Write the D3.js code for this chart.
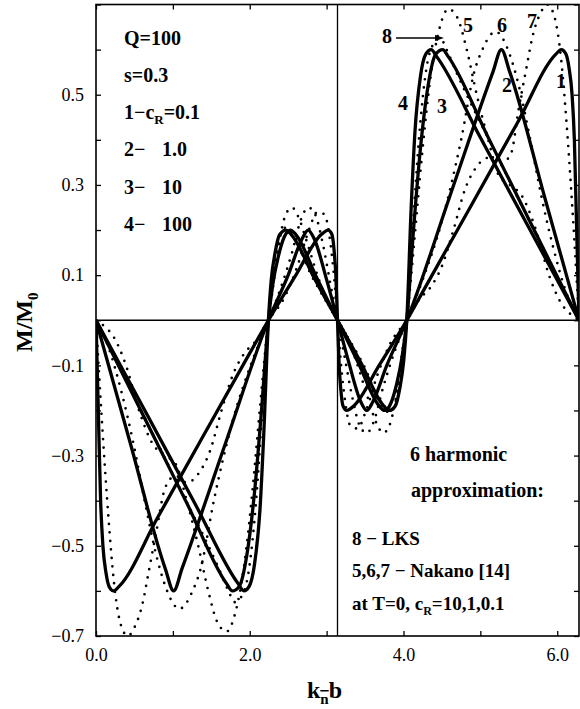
<!DOCTYPE html>
<html>
<head>
<meta charset="utf-8">
<script src="https://cdn.jsdelivr.net/npm/d3@7"></script>
<style>
  body { margin: 0; background: #fff; }
  svg { display: block; font-family: "Liberation Serif", "Times New Roman", serif; }
</style>
</head>
<body>
<svg id="chart" width="580" height="709"></svg>
<script>
// axis ticks
const xTicks = [0, 1, 2, 3, 4, 5, 6];
const xLabeled = [0, 2, 4, 6];
const yTicks = [-0.7, -0.6, -0.5, -0.4, -0.3, -0.2, -0.1, 0, 0.1, 0.2, 0.3, 0.4, 0.5, 0.6, 0.7];
const yLabeled = [-0.7, -0.5, -0.3, -0.1, 0.1, 0.3, 0.5];

// solid curves, 1-4 : c_R = 0.1, 1.0, 10, 100  ([k_n b, M/M0])
const curve1 = [[0,0],[0.03,-0.2],[0.06,-0.4],[0.09,-0.5],[0.13,-0.56],[0.17,-0.59],[0.23,-0.6],[0.3,-0.59],
  [0.8,-0.438],[1.4,-0.255],[2.0,-0.073],[2.243,0],[2.6,0.1],[2.93,0.19],[3.02,0.2],[3.07,0.19],[3.1,0.15],
  [3.12,0.1],[3.1416,0],[3.163,-0.1],[3.183,-0.15],[3.213,-0.19],[3.263,-0.2],[3.353,-0.19],[3.683,-0.1],
  [4.043,0],[4.283,0.073],[4.883,0.255],[5.483,0.438],[5.983,0.59],[6.053,0.6],[6.113,0.59],[6.153,0.56],
  [6.193,0.5],[6.223,0.4],[6.253,0.2],[6.2832,0]];
const curve2 = [[0,0],[0.45,-0.275],[0.9,-0.55],[1.01,-0.6],[1.12,-0.55],[1.68,-0.275],[2.243,0],[2.5,0.1],
  [2.68,0.18],[2.76,0.2],[2.84,0.18],[3.0,0.09],[3.1416,0],[3.283,-0.09],[3.443,-0.18],[3.523,-0.2],
  [3.603,-0.18],[3.783,-0.1],[4.043,0],[4.603,0.275],[5.163,0.55],[5.273,0.6],[5.383,0.55],[5.833,0.275],[6.2832,0]];
const curve3 = [[0,0],[0.583,-0.2],[1.183,-0.406],[1.703,-0.585],[1.773,-0.6],[1.863,-0.59],[1.963,-0.52],
  [2.063,-0.38],[2.153,-0.2],[2.243,0],[2.3,0.08],[2.37,0.14],[2.45,0.185],[2.53,0.2],[2.6,0.19],[2.87,0.095],
  [3.1416,0],[3.413,-0.095],[3.683,-0.19],[3.753,-0.2],[3.833,-0.185],[3.913,-0.14],[3.983,-0.08],[4.043,0],
  [4.13,0.2],[4.22,0.38],[4.32,0.52],[4.42,0.59],[4.51,0.6],[4.58,0.585],[5.1,0.406],[5.7,0.2],[6.2832,0]];
const curve4 = [[0,0],[0.683,-0.215],[1.283,-0.405],[1.853,-0.585],[1.923,-0.6],[1.993,-0.59],[2.063,-0.54],
  [2.133,-0.42],[2.183,-0.25],[2.243,0],[2.28,0.09],[2.33,0.15],[2.39,0.19],[2.47,0.2],[2.54,0.19],[2.85,0.09],
  [3.1416,0],[3.433,-0.09],[3.743,-0.19],[3.813,-0.2],[3.893,-0.19],[3.953,-0.15],[4.003,-0.09],[4.043,0],
  [4.1,0.25],[4.15,0.42],[4.22,0.54],[4.29,0.59],[4.36,0.6],[4.43,0.585],[5.0,0.405],[5.6,0.215],[6.2832,0]];

// dotted curves: 5,6,7 Nakano (c_R = 10, 1, 0.1), 8 LKS
const curve5 = [[0,0],[0.1,-0.012],[0.24,-0.04],[0.39,-0.1],[0.56,-0.2],[0.74,-0.275],[0.9,-0.3],[1.04,-0.32],
  [1.18,-0.4],[1.33,-0.5],[1.46,-0.6],[1.58,-0.67],[1.7,-0.69],[1.81,-0.65],[1.93,-0.54],[2.04,-0.37],
  [2.14,-0.18],[2.243,0],[2.3,0.07],[2.38,0.17],[2.47,0.235],[2.55,0.25],[2.63,0.23],[2.75,0.17],[2.9,0.09],
  [3.02,0.035],[3.1416,0],[3.263,-0.035],[3.383,-0.09],[3.533,-0.17],[3.653,-0.23],[3.733,-0.25],
  [3.813,-0.235],[3.903,-0.17],[3.983,-0.07],[4.043,0],[4.143,0.18],[4.243,0.37],[4.353,0.54],[4.473,0.65],
  [4.583,0.69],[4.703,0.67],[4.823,0.6],[4.953,0.5],[5.103,0.4],[5.243,0.32],[5.383,0.3],[5.543,0.275],
  [5.723,0.2],[5.893,0.1],[6.043,0.04],[6.183,0.012],[6.2832,0]];
const curve6 = [[0,0],[0.163,-0.06],[0.333,-0.16],[0.483,-0.27],[0.633,-0.4],[0.783,-0.52],[0.903,-0.59],
  [0.993,-0.625],[1.083,-0.64],[1.163,-0.63],[1.243,-0.605],[1.363,-0.55],[1.533,-0.4],[1.783,-0.22],
  [2.033,-0.09],[2.243,0],[2.4,0.07],[2.55,0.15],[2.67,0.225],[2.76,0.25],[2.85,0.235],[2.95,0.17],[3.05,0.08],
  [3.1416,0],[3.233,-0.08],[3.333,-0.17],[3.433,-0.235],[3.523,-0.25],[3.613,-0.225],[3.733,-0.15],
  [3.883,-0.07],[4.043,0],[4.25,0.09],[4.5,0.22],[4.75,0.4],[4.92,0.55],[5.04,0.605],[5.12,0.63],[5.2,0.64],
  [5.29,0.625],[5.38,0.59],[5.5,0.52],[5.65,0.4],[5.8,0.27],[5.95,0.16],[6.12,0.06],[6.2832,0]];
const curve7 = [[0,0],[0.083,-0.24],[0.163,-0.44],[0.233,-0.58],[0.323,-0.675],[0.413,-0.7],[0.503,-0.68],
  [0.603,-0.63],[0.683,-0.56],[0.783,-0.47],[0.903,-0.37],[1.033,-0.345],[1.183,-0.36],[1.333,-0.34],
  [1.483,-0.29],[1.633,-0.2],[1.783,-0.12],[1.923,-0.075],[2.083,-0.045],[2.243,0],[2.45,0.05],[2.62,0.12],
  [2.77,0.2],[2.88,0.24],[2.97,0.235],[3.05,0.17],[3.1,0.09],[3.1416,0],[3.183,-0.09],[3.233,-0.17],
  [3.313,-0.235],[3.403,-0.24],[3.513,-0.2],[3.663,-0.12],[3.833,-0.05],[4.043,0],[4.2,0.045],[4.36,0.075],
  [4.5,0.12],[4.65,0.2],[4.8,0.29],[4.95,0.34],[5.1,0.36],[5.25,0.345],[5.4,0.37],[5.5,0.47],[5.6,0.56],
  [5.68,0.63],[5.78,0.68],[5.87,0.7],[5.96,0.675],[6.05,0.58],[6.12,0.44],[6.2,0.24],[6.2832,0]];
const curve8 = [[0,0],[0.483,-0.165],[1.083,-0.37],[1.583,-0.545],[1.723,-0.6],[1.803,-0.625],[1.883,-0.615],
  [1.983,-0.56],[2.083,-0.4],[2.163,-0.2],[2.243,0],[2.3,0.1],[2.37,0.17],[2.45,0.205],[2.52,0.2],[2.8,0.1],
  [3.1416,0],[3.483,-0.1],[3.763,-0.2],[3.833,-0.205],[3.913,-0.17],[3.983,-0.1],[4.043,0],[4.12,0.2],
  [4.2,0.4],[4.3,0.56],[4.4,0.615],[4.48,0.625],[4.56,0.6],[4.7,0.545],[5.2,0.37],[5.8,0.165],[6.2832,0]];

const solidCurves = [curve1, curve2, curve3, curve4];
const dottedCurves = [curve5, curve6, curve7, curve8];

const svg = d3.select("#chart");
const mLeft = 96, mRight = 579, mTop = 4.5, mBottom = 636;

const x = d3.scaleLinear().domain([0, 2 * Math.PI]).range([mLeft, mRight]);
const y = d3.scaleLinear().domain([-0.7, 0.7]).range([mBottom, mTop]);

svg.append("rect").attr("width", 580).attr("height", 709).attr("fill", "#fff");

svg.append("clipPath").attr("id", "plot")
  .append("rect").attr("x", mLeft).attr("y", mTop).attr("width", mRight - mLeft).attr("height", mBottom - mTop);

const fmt = d3.format(".1f");
const isIn = (arr, d) => arr.some(v => Math.abs(v - d) < 1e-9);

function styleAxis(g) {
  g.select(".domain").remove();
  g.selectAll(".tick line").attr("stroke", "#000").attr("stroke-width", 1.3);
  g.selectAll(".tick text").attr("fill", "#000").attr("font-size", 18)
    .attr("font-family", "'Liberation Serif', 'Times New Roman', serif");
}

svg.append("g").attr("transform", `translate(0,${mBottom})`)
  .call(d3.axisBottom(x).tickValues(xTicks).tickSize(-5).tickSizeOuter(0).tickPadding(12)
    .tickFormat(d => isIn(xLabeled, d) ? fmt(d) : ""))
  .call(styleAxis);

svg.append("g").attr("transform", `translate(0,${mTop})`)
  .call(d3.axisTop(x).tickValues(xTicks).tickSize(-5).tickSizeOuter(0).tickFormat(""))
  .call(styleAxis);

svg.append("g").attr("transform", `translate(${mLeft},0)`)
  .call(d3.axisLeft(y).tickValues(yTicks).tickSize(-5).tickSizeOuter(0).tickPadding(12)
    .tickFormat(d => isIn(yLabeled, d) ? fmt(d) : ""))
  .call(styleAxis);

svg.append("g").attr("transform", `translate(${mRight},0)`)
  .call(d3.axisRight(y).tickValues(yTicks).tickSize(-5).tickSizeOuter(0).tickFormat(""))
  .call(styleAxis);

// frame and reference lines
svg.append("rect")
  .attr("x", mLeft).attr("y", mTop).attr("width", mRight - mLeft).attr("height", mBottom - mTop)
  .attr("fill", "none").attr("stroke", "#000").attr("stroke-width", 1.6);

svg.append("line")
  .attr("x1", mLeft).attr("x2", mRight).attr("y1", y(0)).attr("y2", y(0))
  .attr("stroke", "#000").attr("stroke-width", 1.3);
svg.append("line")
  .attr("x1", x(Math.PI)).attr("x2", x(Math.PI)).attr("y1", mTop).attr("y2", mBottom)
  .attr("stroke", "#000").attr("stroke-width", 1.3);

const line = d3.line()
  .x(d => x(d[0]))
  .y(d => y(d[1]))
  .curve(d3.curveMonotoneX);

const plot = svg.append("g").attr("clip-path", "url(#plot)");

plot.selectAll(".dotted").data(dottedCurves).join("path")
  .attr("class", "dotted")
  .attr("d", line)
  .attr("fill", "none")
  .attr("stroke", "#000")
  .attr("stroke-width", 2.7)
  .attr("stroke-linecap", "round")
  .attr("stroke-dasharray", "0 8.5");

plot.selectAll(".solid").data(solidCurves).join("path")
  .attr("class", "solid")
  .attr("d", line)
  .attr("fill", "none")
  .attr("stroke", "#000")
  .attr("stroke-width", 3.3)
  .attr("stroke-linejoin", "round");

// text
function label(txt, px, py, size) {
  return svg.append("text").attr("x", px).attr("y", py)
    .attr("font-size", size || 20).attr("font-weight", "bold").attr("fill", "#000").text(txt);
}

label("Q=100", 124, 45);
label("s=0.3", 124, 82);
const cr = label("1\u2212c", 124, 119);
cr.append("tspan").attr("font-size", 13).attr("dy", 5).text("R");
cr.append("tspan").attr("dy", -5).text("=0.1");
label("2\u2212", 124, 156); label("1.0", 162, 156);
label("3\u2212", 124, 194); label("10", 162, 194);
label("4\u2212", 124, 231); label("100", 162, 231);

label("6 harmonic", 410, 461);
label("approximation:", 411, 497);
label("8 \u2212 LKS", 352, 545, 19);
label("5,6,7 \u2212 Nakano [14]", 352, 577, 19);
const tl = label("at T=0, c", 352, 610, 19);
tl.append("tspan").attr("font-size", 12).attr("dy", 5).text("R");
tl.append("tspan").attr("dy", -5).text("=10,1,0.1");

// curve numbers
label("8", 382, 43);
label("5", 463, 32);
label("6", 497, 32);
label("7", 527, 28);
label("4", 398, 110);
label("3", 437, 113);
label("2", 502, 92);
label("1", 556, 88);

svg.append("line").attr("x1", 396).attr("x2", 436).attr("y1", 38).attr("y2", 38)
  .attr("stroke", "#000").attr("stroke-width", 1.4);
svg.append("path").attr("d", "M444,38 L435,35 L435,41 Z").attr("fill", "#000");

// axis titles
const xt = svg.append("text").attr("x", 307).attr("y", 698)
  .attr("font-size", 24).attr("font-weight", "bold").text("k");
xt.append("tspan").attr("font-size", 15).attr("dy", 6).attr("text-decoration", "overline").text("n");
xt.append("tspan").attr("dy", -6).text("b");

const yt = svg.append("text").attr("transform", "translate(32,352) rotate(-90)")
  .attr("font-size", 24).attr("font-weight", "bold").text("M/M");
yt.append("tspan").attr("font-size", 15).attr("dy", 6).text("0");
</script>
</body>
</html>
